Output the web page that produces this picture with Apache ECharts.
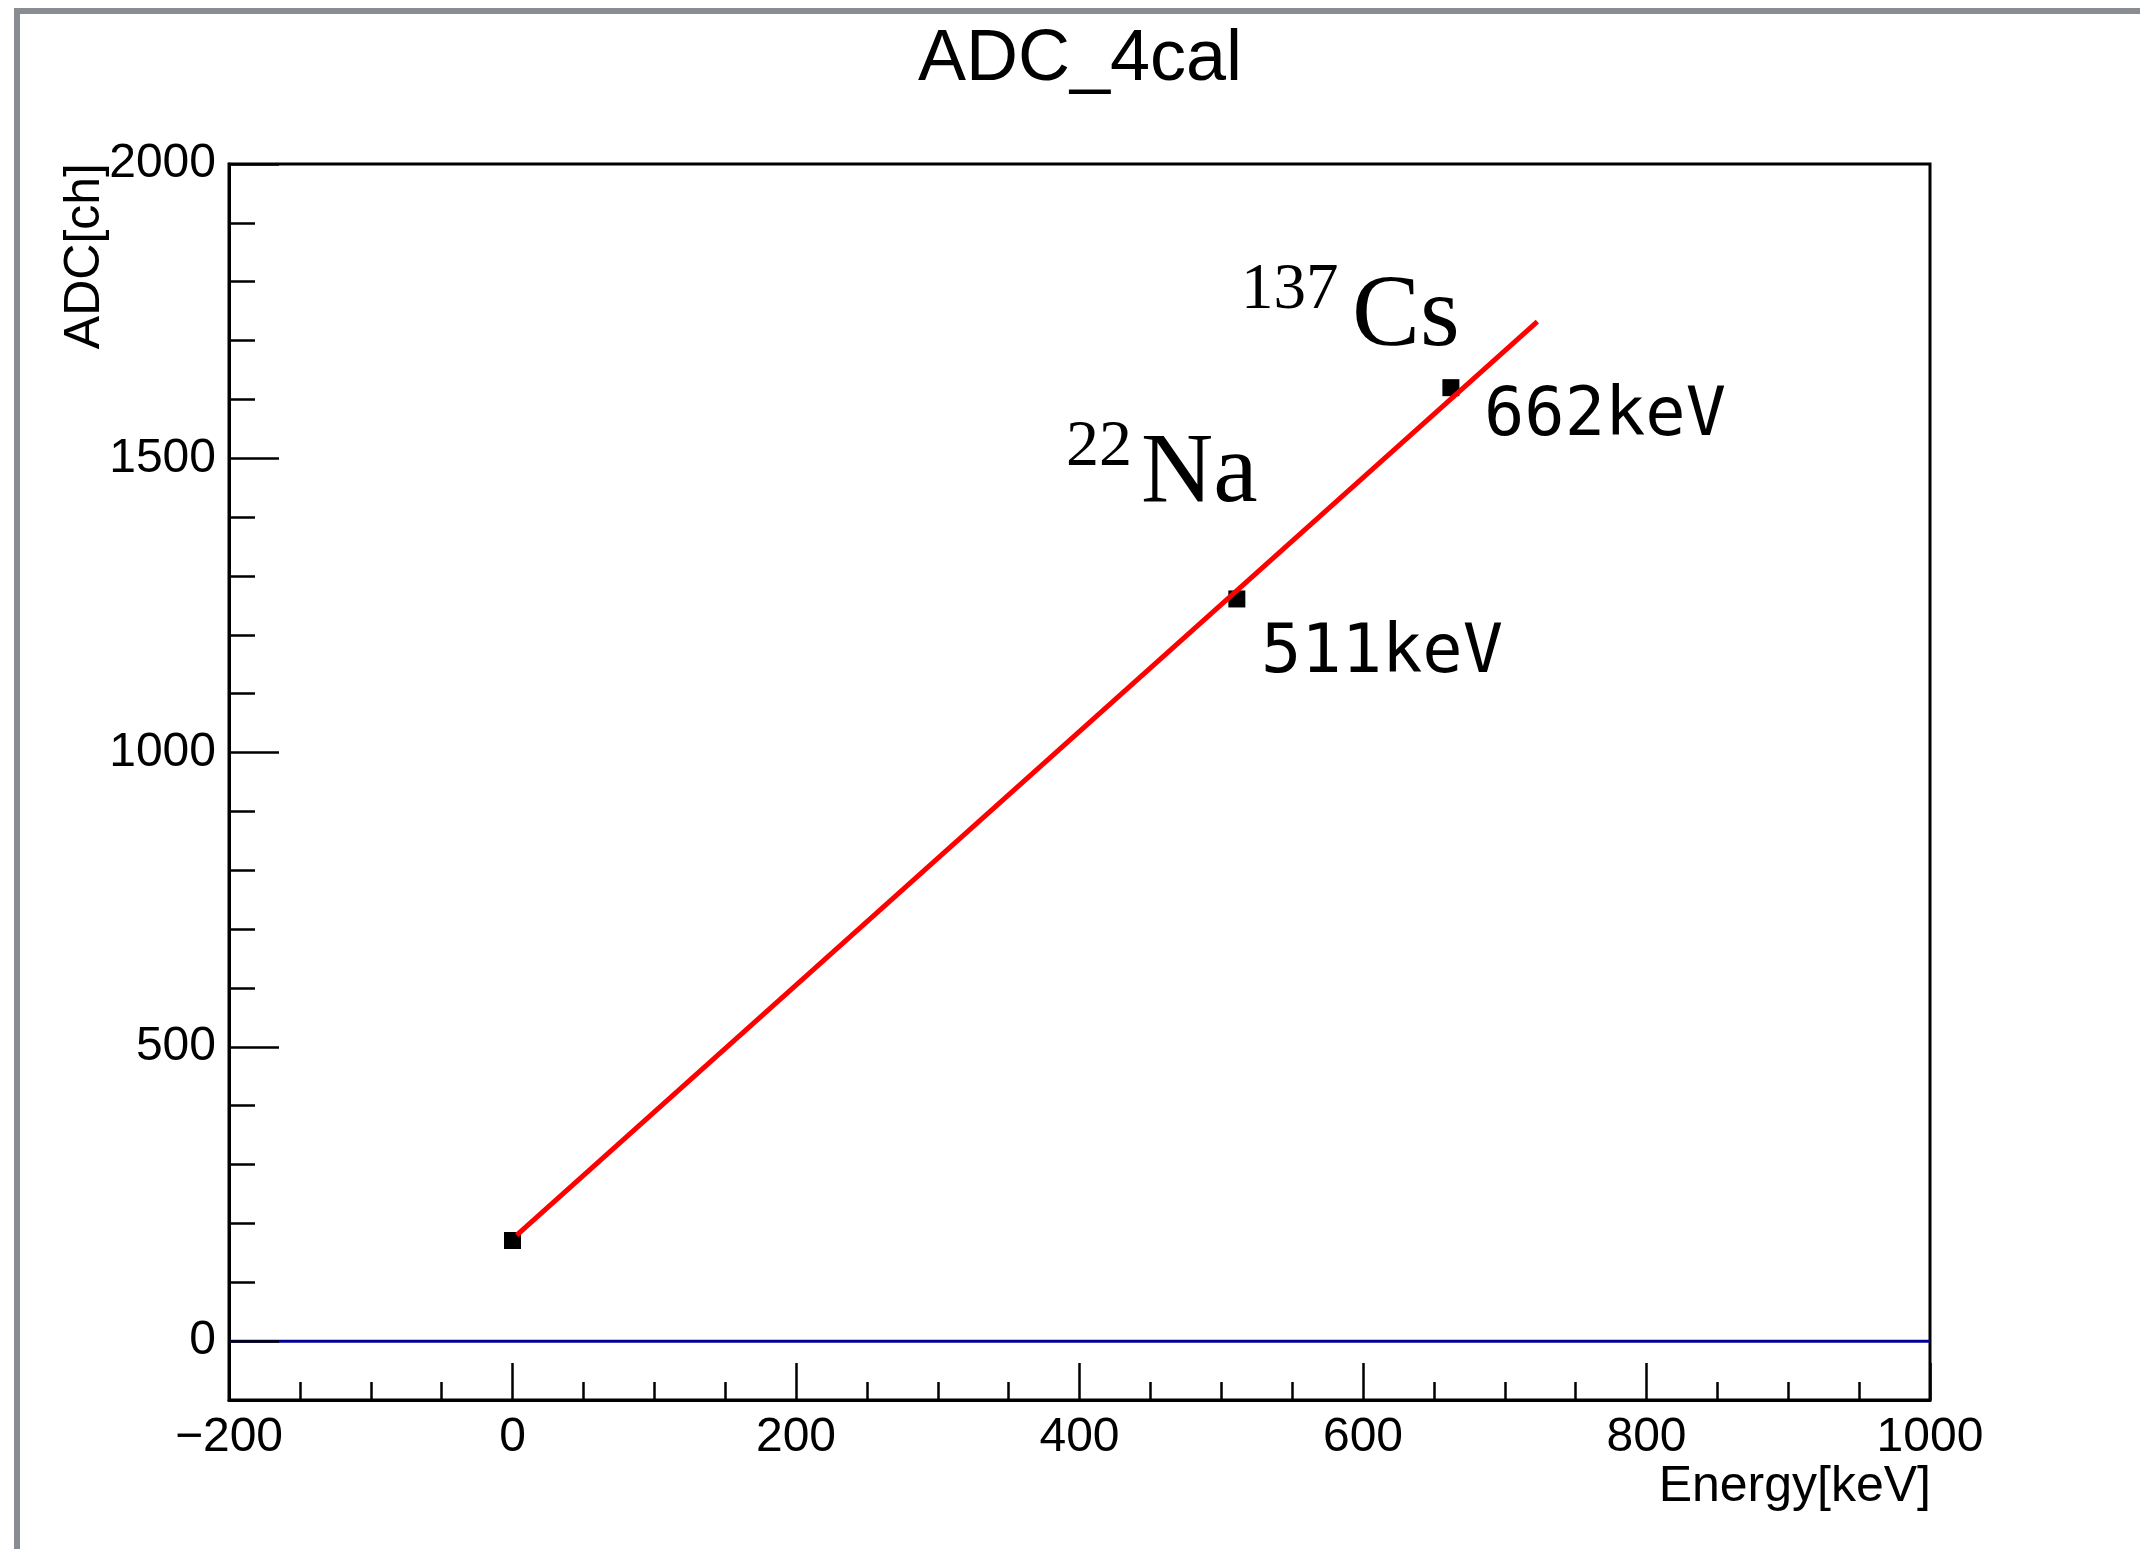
<!DOCTYPE html>
<html>
<head>
<meta charset="utf-8">
<script src="https://cdn.jsdelivr.net/npm/echarts@6/dist/echarts.min.js"></script>
<style>
html,body{margin:0;padding:0;background:#fff;}
#chart{width:2140px;height:1549px;}
</style>
</head>
<body>
<div id="chart"></div>
<script>
// ---- data ----
var titleText = 'ADC_4cal';
var xAxisTitle = 'Energy[keV]';
var yAxisTitle = 'ADC[ch]';
var pointEnergy = [0, 511, 662];          // keV
var pointADC = [171, 1261, 1620];         // ch
var fitEnergy = [3, 723];                 // fitted line endpoints (keV)
var fitADC = [180, 1732];                 // fitted line endpoints (ch)
var zeroEnergy = [-200, 1000];
var zeroADC = [0, 0];
var peakLabels = ['511keV', '662keV'];
var isotopeSup = ['22', '137'];
var isotopeSym = ['Na', 'Cs'];

function pairs(xs, ys) { return xs.map(function (x, i) { return [x, ys[i]]; }); }

var chart = echarts.init(document.getElementById('chart'), null, {renderer: 'canvas'});

var L = 229, T = 164, W = 1701, H = 1236;
var yMin = -100, yMax = 2000;
var H2 = H * (yMax - 0) / (yMax - yMin);

var sans = '"Liberation Sans", Arial, Helvetica, sans-serif';
var serif = '"Liberation Serif", "DejaVu Serif", serif';
var mono = '"DejaVu Sans Mono", "Liberation Mono", monospace';

var option = {
  animation: false,
  backgroundColor: '#ffffff',
  grid: [
    {left: L, top: T, width: W, height: H, show: true, borderColor: '#000', borderWidth: 3, backgroundColor: 'transparent'},
    {left: L, top: T, width: W, height: H2, show: false}
  ],
  xAxis: [
    {
      gridIndex: 0, type: 'value', min: -200, max: 1000, interval: 200, position: 'bottom',
      axisLine: {show: true, onZero: false, lineStyle: {color: '#000', width: 3}},
      axisTick: {show: true, inside: true, length: 37, lineStyle: {color: '#000', width: 2.5}},
      minorTick: {show: true, splitNumber: 4, length: 18, lineStyle: {color: '#000', width: 2.5}},
      splitLine: {show: false},
      axisLabel: {
        show: true, margin: 14, color: '#000', fontSize: 48, fontFamily: sans,
        formatter: function (v) { return v < 0 ? '\u2212' + Math.abs(v) : String(v); }
      }
    },
    {gridIndex: 1, type: 'value', min: -200, max: 1000, show: false, axisLine: {onZero: false}}
  ],
  yAxis: [
    {
      gridIndex: 0, type: 'value', min: yMin, max: yMax, position: 'left',
      axisLine: {show: true, onZero: false, lineStyle: {color: '#000', width: 3}},
      axisTick: {show: false}, axisLabel: {show: false}, splitLine: {show: false}
    },
    {
      gridIndex: 1, type: 'value', min: 0, max: 2000, interval: 500, z: 5, position: 'left',
      axisLine: {show: false, onZero: false},
      axisTick: {show: true, inside: true, length: 50, lineStyle: {color: '#000', width: 2.5}},
      minorTick: {show: true, splitNumber: 5, length: 26, lineStyle: {color: '#000', width: 2.5}},
      splitLine: {show: false},
      axisLabel: {show: true, margin: 13, color: '#000', fontSize: 48, fontFamily: sans,
        padding: [6, 0, 0, 0],
        formatter: function (v) { return String(v); }}
    }
  ],
  series: [
    {
      type: 'line', xAxisIndex: 0, yAxisIndex: 0, z: 2,
      data: pairs(zeroEnergy, zeroADC), showSymbol: false, symbol: 'none',
      lineStyle: {color: '#000099', width: 3}, silent: true
    },
    {
      type: 'scatter', xAxisIndex: 0, yAxisIndex: 0, z: 3,
      data: pairs(pointEnergy, pointADC), symbol: 'rect', symbolSize: 17,
      itemStyle: {color: '#000', opacity: 1}
    },
    {
      type: 'line', xAxisIndex: 0, yAxisIndex: 0, z: 4,
      data: pairs(fitEnergy, fitADC), showSymbol: false, symbol: 'none',
      lineStyle: {color: '#ff0000', width: 5}, silent: true
    }
  ],
  graphic: [
    // outer gray frame
    {type: 'rect', shape: {x: 14, y: 8, width: 6, height: 1541}, style: {fill: '#898d93'}, silent: true},
    {type: 'rect', shape: {x: 14, y: 8, width: 2126, height: 6}, style: {fill: '#898d93'}, silent: true},
    // title
    {type: 'text', x: 1080, y: 60, style: {text: titleText, fill: '#000', font: '72px ' + sans, textAlign: 'center', textVerticalAlign: 'middle'}},
    // axis titles
    {type: 'text', x: 1931, y: 1487, style: {text: xAxisTitle, fill: '#000', font: '50px ' + sans, textAlign: 'right', textVerticalAlign: 'middle'}},
    {type: 'text', x: 85, y: 163, rotation: Math.PI / 2, style: {text: yAxisTitle, fill: '#000', font: '50px ' + sans, textAlign: 'right', textVerticalAlign: 'middle'}},
    // isotope labels
    {type: 'text', x: 1066, y: 448, style: {text: isotopeSup[0], fill: '#000', font: '66px ' + serif, textAlign: 'left', textVerticalAlign: 'middle'}},
    {type: 'text', x: 1141, y: 475, style: {text: isotopeSym[0], fill: '#000', font: '100px ' + serif, textAlign: 'left', textVerticalAlign: 'middle'}},
    {type: 'text', x: 1241, y: 291, style: {text: isotopeSup[1], fill: '#000', font: '65px ' + serif, textAlign: 'left', textVerticalAlign: 'middle'}},
    {type: 'text', x: 1352, y: 318, style: {text: isotopeSym[1], fill: '#000', font: '102px ' + serif, textAlign: 'left', textVerticalAlign: 'middle'}},
    // peak labels
    {type: 'text', x: 1261, y: 655, style: {text: peakLabels[0], fill: '#000', font: '67px ' + mono, textAlign: 'left', textVerticalAlign: 'middle'}},
    {type: 'text', x: 1484, y: 418, style: {text: peakLabels[1], fill: '#000', font: '67px ' + mono, textAlign: 'left', textVerticalAlign: 'middle'}}
  ]
};

chart.setOption(option);
</script>
</body>
</html>
